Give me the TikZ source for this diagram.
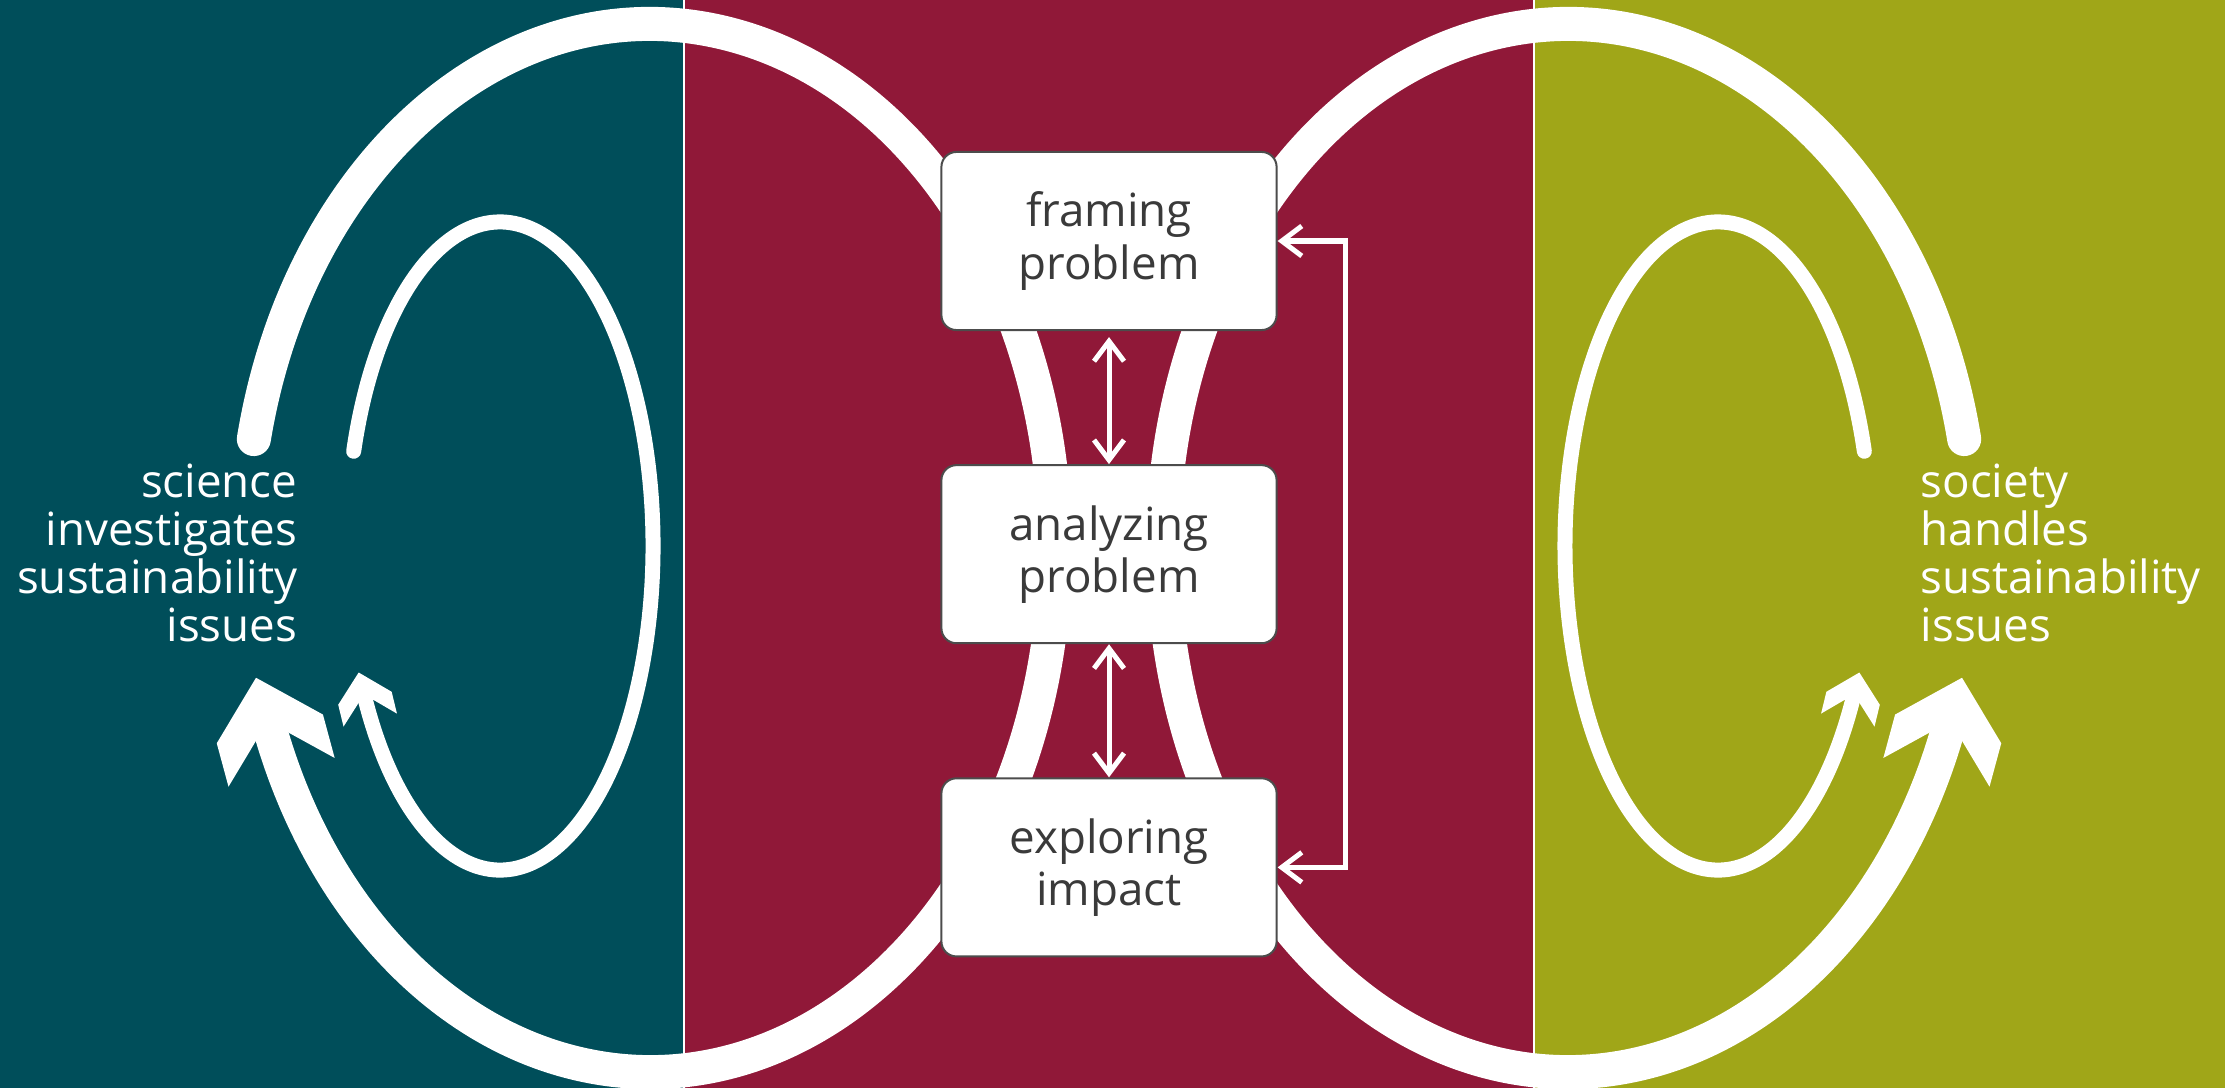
\documentclass[tikz,border=0pt]{standalone}
\usepackage{fontspec}
\setmainfont{Open Sans}
\usetikzlibrary{positioning,arrows.meta,decorations.markings}
\definecolor{sciteal}{HTML}{004E5A}
\definecolor{midred}{HTML}{901838}
\definecolor{socolive}{HTML}{A0A618}
\definecolor{boxtext}{HTML}{3A3A3A}

\begin{document}
\begin{tikzpicture}[x=0.01cm, y=-0.01cm,
    stage/.style={draw=black!70, line width=0.02cm, fill=white, rounded corners=0.15cm,
      minimum width=3.35cm, minimum height=1.78cm, align=center, text=boxtext,
      font=\fontsize{13}{14.8}\selectfont},
    side/.style={text=white, inner sep=0pt, font=\fontsize{13}{13.7}\selectfont},
    loop/.style={white, line cap=round, line width=#1},
    tipped/.style={postaction={decorate, decoration={markings,
      mark=at position 0.999 with {\fill[white, scale=#1] (45,0) -- (-8,55) -- (-53,55)
        -- (0,0) -- (-53,-55) -- (-8,-55) -- cycle;}}}},
    link/.style={white, line width=0.05cm,
      {Straight Barb[length=0.2cm,width=0.3cm]}-{Straight Barb[length=0.2cm,width=0.3cm]}}]
  \useasboundingbox (0,0) rectangle (2225,1088);
  \fill[sciteal] (0,0) rectangle (684,1088);
  \fill[midred] (684,0) rectangle (1534,1088);
  \fill[socolive] (1534,0) rectangle (2225,1088);
  \draw[white, line width=0.025cm] (684,0) -- (684,1088) (1534,0) -- (1534,1088);

  % the two cycles, mirrored round the middle
  \foreach \s in {1,-1}{
    \begin{scope}[shift={(1109,0)}, xscale=\s, shift={(-1109,0)}]
      \draw[loop=0.34cm, tipped=1] (650,548) ++(192:405 and 524)
        arc[start angle=192, end angle=521, x radius=405, y radius=524];
      \draw[loop=0.15cm, tipped=0.5] (500,546) ++(197:153 and 324)
        arc[start angle=197, end angle=513, x radius=153, y radius=324];
    \end{scope}
  }

  \node[stage] (frame) at (1109,241) {framing\\problem};
  \node[stage, below=1.33cm of frame] (analyze) {analyzing\\problem};
  \node[stage, below=1.33cm of analyze] (explore) {exploring\\impact};

  \draw[link, shorten <=0.06cm] (frame) -- (analyze);
  \draw[link] (analyze) -- (explore);
  \draw[link] (frame.east) -- ++(68,0) |- (explore.east);

  \node[side, anchor=north east, align=right] (science) at (298,463)
    {science\\investigates\\sustainability\\issues};
  \node[side, anchor=north west, align=left] (society) at (1920,463)
    {society\\handles\\sustainability\\issues};
\end{tikzpicture}
\end{document}
